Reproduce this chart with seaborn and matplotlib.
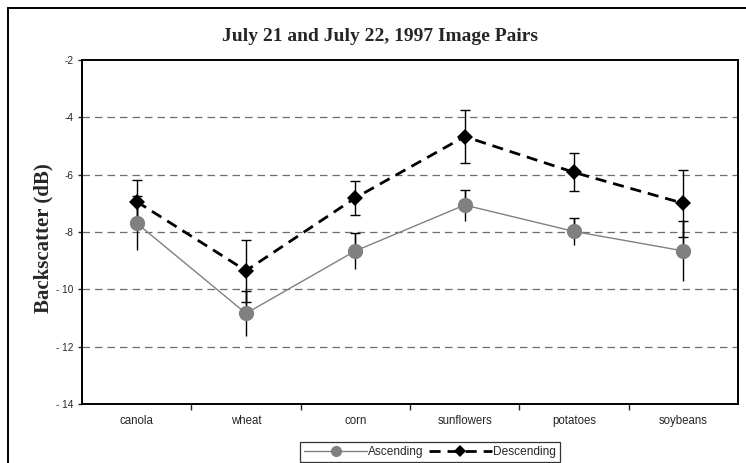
import matplotlib
matplotlib.use("Agg")
import matplotlib.pyplot as plt
import matplotlib.patches as patches
from matplotlib.lines import Line2D
import seaborn as sns
import pandas as pd
import numpy as np

# values
crops = ["canola", "wheat", "corn", "sunflowers", "potatoes", "soybeans"]
ascending = [-7.69, -10.84, -8.66, -7.06, -7.98, -8.66]
ascending_err = [0.93, 0.78, 0.62, 0.54, 0.48, 1.05]
descending = [-6.94, -9.35, -6.81, -4.67, -5.92, -7.00]
descending_err = [0.75, 1.08, 0.58, 0.92, 0.66, 1.17]
y_ticks = [-2, -4, -6, -8, -10, -12, -14]

sns.set_style("white")
plt.rcParams["font.family"] = ["Liberation Sans", "DejaVu Sans"]
plt.rcParams["axes.unicode_minus"] = False

df = pd.DataFrame({"crop": crops * 2,
                   "value": ascending + descending,
                   "pass": ["Ascending"] * 6 + ["Descending"] * 6})

fig = plt.figure(figsize=(7.46, 4.63), dpi=100)
ax = fig.add_axes([82 / 746, 1 - 404 / 463, 656 / 746, 344 / 463])

# outer chart frame (right / bottom edges run off the picture)
frame = patches.Rectangle((8 / 746, -0.1), 1.2, 1.1 - 8 / 463,
                          transform=fig.transFigure, fill=False,
                          edgecolor="black", linewidth=1.4)
fig.patches.append(frame)

x = np.arange(len(crops))

# error bars: descending capped both ends, ascending capped on top only
ax.errorbar(x, descending, yerr=descending_err, fmt="none", ecolor="black",
            elinewidth=1, capsize=3.6, capthick=1, zorder=3)
ax.errorbar(x, ascending, yerr=ascending_err, fmt="none", ecolor="black",
            elinewidth=1, capsize=0, zorder=3)
ax.errorbar(x, ascending, yerr=[np.zeros(6), ascending_err], fmt="none",
            ecolor="black", elinewidth=1, capsize=3.6, capthick=1, zorder=3)

asc_df = df[df["pass"] == "Ascending"]
desc_df = df[df["pass"] == "Descending"]
sns.lineplot(data=asc_df, x="crop", y="value", ax=ax, color="#808080",
             linewidth=1, marker="o", markersize=11, markeredgewidth=0,
             sort=False, zorder=4)
sns.lineplot(data=desc_df, x="crop", y="value", ax=ax, color="black",
             linewidth=2, marker="D", markersize=8.5, markeredgewidth=0,
             sort=False, zorder=5, dashes=False, linestyle=(0, (4, 2.5)))

ax.set_xlim(-0.5, 5.5)
ax.set_ylim(-14, -2)
ax.set_yticks(y_ticks)
ax.set_yticklabels([str(v).replace("-", "- ") if v <= -10 else str(v) for v in y_ticks])
ax.set_xticks(x)
ax.set_xticklabels(crops)
ax.set_xticks(np.arange(0.5, 5.5, 1), minor=True)
ax.tick_params(axis="x", which="major", length=0, labelsize=8.3, pad=8)
ax.tick_params(axis="x", which="minor", length=4, width=1, direction="out",
               bottom=True)
ax.tick_params(axis="y", length=3, width=1, direction="out", left=True,
               labelsize=7.2, pad=3)
ax.set_xlabel("")
ax.set_ylabel("")

ax.grid(False)
for v in y_ticks[1:-1]:
    ax.axhline(v, color="#6e6e6e", linewidth=0.9, linestyle=(0, (6, 4)),
               zorder=1)

for s in ax.spines.values():
    s.set_visible(True)
    s.set_color("black")
    s.set_linewidth(1.4)

serif = ["Liberation Serif", "DejaVu Serif"]
fig.text(380 / 746, 1 - 41 / 463, "July 21 and July 22, 1997 Image Pairs",
         ha="center", va="baseline", fontsize=14, fontweight="bold",
         family=serif)
fig.text(43 / 746, 1 - 238 / 463, "Backscatter (dB)", rotation=90,
         ha="center", va="center", fontsize=15, fontweight="bold",
         family=serif)

handles = [
    Line2D([], [], color="#808080", linewidth=1, marker="o", markersize=8,
           markeredgewidth=0),
    Line2D([], [], color="black", linewidth=2, linestyle=(0, (4, 2.5)),
           marker="D", markersize=6, markeredgewidth=0),
]
leg = fig.legend(handles, ["Ascending", "Descending"], ncol=2,
                 loc="upper center", bbox_to_anchor=(430 / 746, 1 - 442 / 463),
                 fontsize=8.6, frameon=True, fancybox=False, handlelength=5.3,
                 handletextpad=0.1, columnspacing=0.4, borderpad=0.35,
                 borderaxespad=0)
leg.get_frame().set_edgecolor("black")
leg.get_frame().set_linewidth(0.9)

fig.savefig("out.png", dpi=100)
